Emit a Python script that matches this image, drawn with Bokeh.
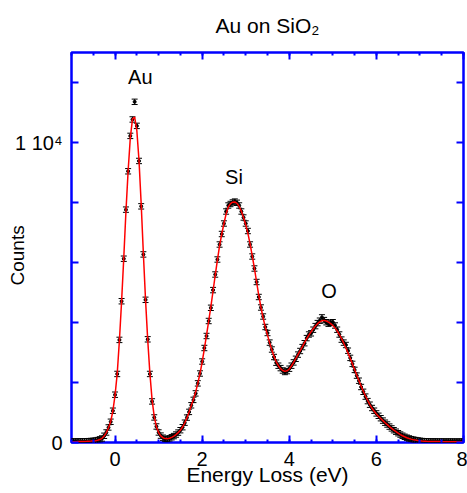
import numpy as np
from bokeh.plotting import figure
from bokeh.models import (ColumnDataSource, Whisker, TeeHead, LinearAxis, FixedTicker,
                          SingleIntervalTicker, Label)
from bokeh.embed import file_html
from bokeh.resources import INLINE

# ---- data -------------------------------------------------------------
energy_start = -1.0   # eV, first channel
energy_step = 0.05    # eV per channel

counts = [
    30, 32, 28, 35, 33, 38, 36, 42, 45, 50,
    55, 65, 80, 105, 134, 224, 334, 501, 691, 1059,
    1593, 2285, 3420, 4709, 6126, 7762, 9041, 10220, 10768, 11356,
    10554, 9385, 7872, 6269, 4756, 3440, 2285, 1369, 835, 534,
    334, 230, 160, 120, 115, 140, 175, 214, 265, 330,
    410, 510, 660, 830, 1020, 1240, 1420, 1637, 1971, 2300,
    2700, 3150, 3550, 4050, 4490, 5080, 5600, 6100, 6600, 6950,
    7300, 7700, 7900, 7950, 8000, 8030, 7990, 7900, 7700, 7500,
    7300, 7050, 6600, 6200, 5800, 5350, 4850, 4500, 4200, 3850,
    3650, 3330, 3100, 2850, 2660, 2560, 2480, 2400, 2350, 2380,
    2460, 2560, 2670, 2790, 2930, 3050, 3180, 3310, 3480, 3600,
    3640, 3760, 3880, 3980, 4060, 4170, 4080, 4010, 3960, 3990,
    4010, 3900, 3760, 3600, 3430, 3330, 3250, 3060, 2820, 2620,
    2420, 2230, 2060, 1850, 1690, 1530, 1380, 1260, 1150, 1060,
    970, 890, 810, 730, 660, 600, 530, 470, 410, 360,
    310, 265, 225, 190, 160, 135, 112, 95, 80, 68,
    56, 48, 42, 38, 35, 33, 31, 34, 30, 29,
    32, 30, 28, 31, 29, 30, 27, 29, 28, 30,
    28,
]

fit = [
    26, 27, 28, 30, 31, 33, 35, 38, 42, 46,
    52, 60, 74, 98, 140, 215, 330, 490, 700, 1050,
    1580, 2300, 3400, 4700, 6150, 7700, 9050, 10150, 10780, 10850,
    10400, 9400, 7950, 6300, 4750, 3420, 2300, 1420, 860, 520,
    330, 220, 160, 130, 125, 140, 172, 214, 265, 330,
    410, 515, 650, 820, 1020, 1230, 1440, 1680, 1970, 2300,
    2680, 3120, 3580, 4050, 4530, 5050, 5580, 6080, 6560, 6950,
    7300, 7620, 7850, 7960, 8010, 8020, 7970, 7870, 7710, 7500,
    7260, 6970, 6620, 6220, 5800, 5350, 4900, 4500, 4150, 3840,
    3580, 3320, 3080, 2870, 2690, 2560, 2460, 2400, 2370, 2390,
    2450, 2550, 2670, 2800, 2930, 3060, 3190, 3330, 3460, 3580,
    3690, 3790, 3880, 3960, 4020, 4060, 4070, 4050, 4010, 3960,
    3900, 3820, 3720, 3600, 3460, 3310, 3150, 2980, 2800, 2620,
    2430, 2240, 2060, 1880, 1710, 1550, 1400, 1260, 1140, 1040,
    950, 870, 800, 730, 660, 595, 530, 470, 410, 360,
    310, 265, 225, 190, 160, 135, 112, 94, 80, 68,
    58, 50, 44, 40, 37, 35, 33, 32, 31, 30,
    30, 29, 29, 29, 29, 28, 28, 28, 28, 28,
    28,
]

count_error = 90  # error bar half-height (counts)

x_major_ticks = [0, 2, 4, 6, 8]
y_ticks = [0, 2000, 4000, 6000, 8000, 10000, 12000]
y_tick_labels = {0: "0", 10000: "1 10\u2074"}

peak_names = ["Au", "Si", "O"]
chart_title = "Au on SiO\u2082"
# -----------------------------------------------------------------------

energy = [round(energy_start + i * energy_step, 3) for i in range(len(counts))]
src = ColumnDataSource(dict(
    x=energy, y=counts, fit=fit,
    upper=[c + count_error for c in counts],
    lower=[c - count_error for c in counts],
))

BLUE = "#0000ff"
FONT = "Liberation Sans"

p = figure(width=467, height=493, x_range=(-1, 8), y_range=(0, 13000),
           output_backend="svg", toolbar_location=None, x_axis_location=None,
           y_axis_location=None, title=None,
           min_border_left=71, min_border_right=4, min_border_top=52, min_border_bottom=51)
p.background_fill_color = "white"
p.border_fill_color = "white"
p.grid.visible = False
p.outline_line_color = BLUE
p.outline_line_width = 2.5


def style_axis(ax, labels=True):
    ax.axis_line_color = None
    ax.major_tick_line_color = BLUE
    ax.minor_tick_line_color = BLUE
    ax.major_tick_line_width = 2
    ax.minor_tick_line_width = 2
    ax.major_tick_in = 7
    ax.major_tick_out = 0
    ax.minor_tick_in = 3
    ax.minor_tick_out = 0
    if labels:
        ax.major_label_text_font = FONT
        ax.major_label_text_font_size = "20px"
        ax.major_label_text_color = "black"
    else:
        ax.major_label_text_font_size = "0px"
        ax.major_label_standoff = 0
    ax.axis_label_text_font = FONT
    ax.axis_label_text_font_style = "normal"
    ax.axis_label_text_color = "black"


xb = LinearAxis(ticker=SingleIntervalTicker(interval=2, num_minor_ticks=4))
style_axis(xb)
xb.major_label_standoff = 9
xb.axis_label = "Energy Loss (eV)"
xb.axis_label_text_font_size = "21px"
xb.axis_label_standoff = -6
p.add_layout(xb, "below")

# top axis carries the chart title as its label
xt = LinearAxis(ticker=SingleIntervalTicker(interval=2, num_minor_ticks=4))
style_axis(xt, labels=False)
xt.major_label_overrides = {t: "" for t in x_major_ticks}
xt.axis_label = chart_title
xt.axis_label_text_font_size = "21px"
xt.axis_label_standoff = 16
p.add_layout(xt, "above")

yl = LinearAxis(ticker=FixedTicker(ticks=y_ticks, minor_ticks=[]))
style_axis(yl)
yl.major_label_standoff = 9
yl.major_label_overrides = {t: y_tick_labels.get(t, "") for t in y_ticks}
yl.axis_label = "Counts\u00a0\u00a0\u00a0"
yl.axis_label_text_font_size = "19px"
yl.axis_label_standoff = -16
p.add_layout(yl, "left")

yr = LinearAxis(ticker=FixedTicker(ticks=y_ticks, minor_ticks=[]))
style_axis(yr, labels=False)
yr.major_label_overrides = {t: "" for t in y_ticks}
p.add_layout(yr, "right")

# error bars + points
head_u = TeeHead(size=6, line_color="black", line_width=1)
head_l = TeeHead(size=6, line_color="black", line_width=1)
p.add_layout(Whisker(source=src, base="x", upper="upper", lower="lower",
                     line_color="black", line_width=1,
                     upper_head=head_u, lower_head=head_l))
p.scatter("x", "y", source=src, size=3, color="black", marker="circle")

# fit line
p.line("x", "fit", source=src, line_color="#ff0000", line_width=1.5)

# peak labels
peak_pos = [(0.58, 12200), (2.73, 8850), (4.91, 5060)]
for name, (lx, ly) in zip(peak_names, peak_pos):
    p.add_layout(Label(x=lx, y=ly, text=name, text_align="center", text_baseline="alphabetic",
                       text_font=FONT, text_font_size="20px", text_color="black"))

open("out.html", "w").write(file_html(p, INLINE))
